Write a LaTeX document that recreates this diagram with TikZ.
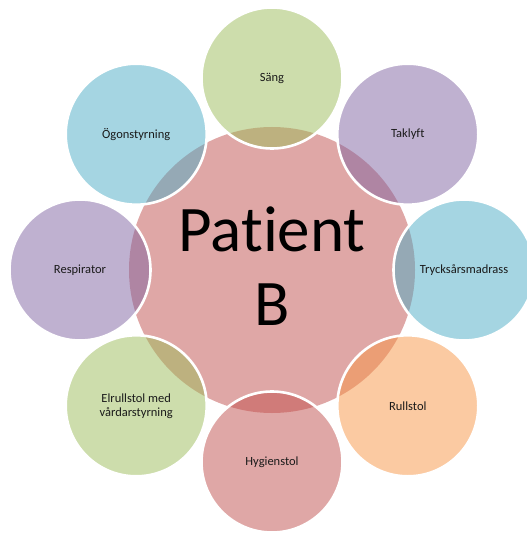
\documentclass[tikz,border=0pt]{standalone}
\usepackage{fontspec}
\setmainfont[Ligatures=NoCommon]{Carlito}
\definecolor{tgreen}{HTML}{9BBB59}
\definecolor{tred}{HTML}{C0504D}
\definecolor{tpurple}{HTML}{8064A2}
\definecolor{taqua}{HTML}{4BACC6}
\definecolor{torange}{HTML}{F79646}
\definecolor{ttext}{HTML}{1A1A1A}
\tikzset{
  hub/.style={circle, inner sep=0pt, minimum size=286pt, fill=tred, fill opacity=0.5},
  hubtext/.style={inner sep=0pt, text=black, align=center, font=\fontsize{65}{74}\selectfont},
  sat/.style={circle, inner sep=0pt, minimum size=141pt, draw=white, line width=2.6pt,
    fill=#1, fill opacity=0.5, draw opacity=1, text opacity=1, text=ttext, align=center,
    font=\fontsize{12.5}{14}\selectfont}
}
\begin{document}
\begin{tikzpicture}[x=1pt,y=-1pt]
\useasboundingbox (0,0) rectangle (526,534);
\node[hub] (hub) at (272,270) {};
\node[hubtext] (hubl) at ([yshift=4pt]hub.center) {Patient\\B};
\node[sat=tgreen]  (sang)  at (272,78)  {Säng};
\node[sat=tpurple] (tak)   at (407.8,134.2) {Taklyft};
\node[sat=taqua]   (tryck) at (464,270) {Trycksårsmadrass};
\node[sat=torange] (rull)  at (407.8,405.8) {Rullstol};
\node[sat=tred]    (hyg)   at (272,462) {Hygienstol};
\node[sat=tgreen]  (elr)   at (136.2,405.8) {Elrullstol med\\vårdarstyrning};
\node[sat=tpurple] (resp)  at (80,270)  {Respirator};
\node[sat=taqua]   (ogon)  at (136.2,134.2) {Ögonstyrning};
\end{tikzpicture}
\end{document}
